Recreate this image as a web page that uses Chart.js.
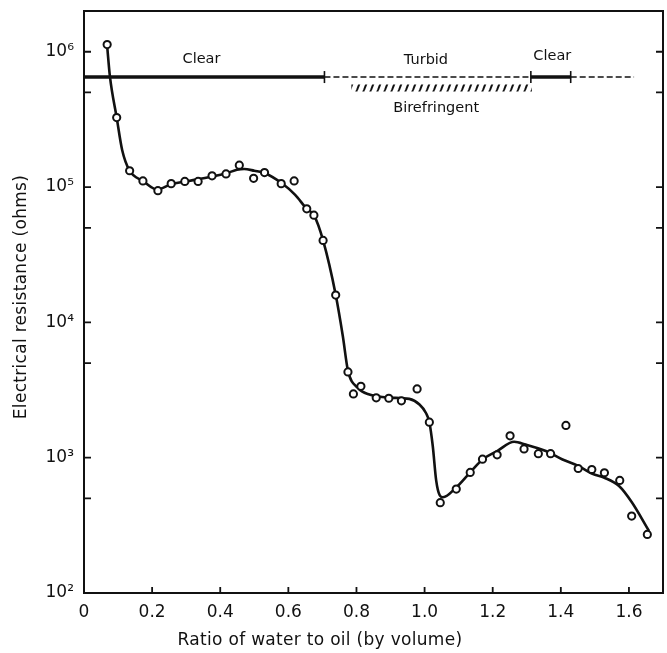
<!DOCTYPE html>
<html>
<head>
<meta charset="utf-8">
<script src="https://cdn.jsdelivr.net/npm/chart.js@4.4.0/dist/chart.umd.min.js"></script>
<style>
  html, body { margin: 0; padding: 0; background: #fff; }
  #wrap { width: 667px; height: 653px; }
</style>
</head>
<body>
<div id="wrap"><canvas id="resistanceChart"></canvas></div>
<script>
// measured points (ratio of water to oil, resistance in ohms)
const ratioPts = [0.068, 0.096, 0.134, 0.173, 0.217, 0.256, 0.296, 0.335, 0.376, 0.417,
  0.456, 0.498, 0.530, 0.579, 0.617, 0.654, 0.675, 0.702, 0.739, 0.775,
  0.791, 0.813, 0.858, 0.895, 0.932, 0.978, 1.014, 1.046, 1.093, 1.134,
  1.170, 1.213, 1.251, 1.292, 1.334, 1.370, 1.415, 1.451, 1.491, 1.528,
  1.573, 1.608, 1.654];
const ohmPts = [1.13e6, 3.26e5, 1.32e5, 1.11e5, 9.4e4, 1.06e5, 1.10e5, 1.10e5, 1.21e5, 1.25e5,
  1.45e5, 1.16e5, 1.28e5, 1.06e5, 1.11e5, 6.9e4, 6.2e4, 4.03e4, 1.59e4, 4.3e3,
  2.96e3, 3.37e3, 2.77e3, 2.75e3, 2.63e3, 3.22e3, 1.83e3, 465, 586, 778,
  975, 1.05e3, 1.45e3, 1.16e3, 1.07e3, 1.07e3, 1.73e3, 832, 818, 774,
  679, 370, 271];

// hand drawn curve through the points
const curveRatio = [0.068, 0.076, 0.096, 0.112, 0.134, 0.173, 0.215, 0.256, 0.30, 0.34,
  0.38, 0.42, 0.449, 0.47, 0.50, 0.53, 0.58, 0.62, 0.654, 0.675,
  0.702, 0.739, 0.760, 0.775, 0.804, 0.838, 0.895, 0.955, 0.985, 1.004,
  1.014, 1.024, 1.034, 1.044, 1.054, 1.092, 1.134, 1.170, 1.213, 1.263,
  1.297, 1.356, 1.405, 1.453, 1.493, 1.528, 1.571, 1.608, 1.659];
const curveOhm = [1.1e6, 6.6e5, 3.26e5, 1.88e5, 1.32e5, 1.11e5, 9.6e4, 1.05e5, 1.10e5, 1.15e5,
  1.20e5, 1.27e5, 1.34e5, 1.36e5, 1.32e5, 1.27e5, 1.07e5, 8.75e4, 6.9e4, 6.2e4,
  4.03e4, 1.6e4, 7.9e3, 4.4e3, 3.28e3, 2.93e3, 2.78e3, 2.72e3, 2.47e3, 2.14e3,
  1.83e3, 1.22e3, 6.8e2, 5.3e2, 5.1e2, 6.0e2, 7.8e2, 9.7e2, 1.12e3, 1.31e3,
  1.25e3, 1.12e3, 970, 865, 760, 711, 617, 470, 287];

// phase regions along the top
const clearBars = [[0, 0.706], [1.312, 1.429]];
const turbidBars = [[0.706, 1.312], [1.429, 1.615]];
const phaseEdges = [0.706, 1.312, 1.429];
const birefringentBar = [0.785, 1.315];
const phaseLevel = 6.5e5;
const birefLevel = 5.4e5;
const phaseLabels = ["Clear", "Turbid", "Clear", "Birefringent"];
const phaseLabelX = [0.345, 1.004, 1.375, 1.034];
const phaseLabelY = [8.8e5, 8.7e5, 9.3e5, 3.84e5];

// axes
const xTickValues = [0, 0.2, 0.4, 0.6, 0.8, 1.0, 1.2, 1.4, 1.6];
const yTickValues = [1e2, 5e2, 1e3, 5e3, 1e4, 5e4, 1e5, 5e5, 1e6];
const SUP = { 2: "\u00b2", 3: "\u00b3", 4: "\u2074", 5: "\u2075", 6: "\u2076" };

const INK = "#111";
const FONT = "'DejaVu Sans', sans-serif";

function hatchPattern() {
  const w = 7, h = 18;
  const tile = document.createElement("canvas");
  tile.width = w;
  tile.height = h;
  const c = tile.getContext("2d");
  c.strokeStyle = INK;
  c.lineWidth = 2;
  [-w, 0, w].forEach((dx) => {
    c.beginPath();
    c.moveTo(dx, h);
    c.lineTo(dx + w, 0);
    c.stroke();
  });
  return document.getElementById("resistanceChart").getContext("2d").createPattern(tile, "repeat");
}

const segment = (pair, y) => pair.map((x) => ({ x, y }));

const datasets = [
  {
    label: "measured",
    data: ratioPts.map((x, i) => ({ x, y: ohmPts[i] })),
    pointStyle: "circle",
    pointRadius: 3.6,
    pointBorderWidth: 2,
    pointBackgroundColor: "#fff",
    pointBorderColor: INK,
    showLine: false,
  },
  {
    label: "curve",
    data: curveRatio.map((x, i) => ({ x, y: curveOhm[i] })),
    showLine: true,
    borderColor: INK,
    borderWidth: 2.6,
    pointRadius: 0,
    cubicInterpolationMode: "monotone",
  },
  {
    label: "edges",
    data: phaseEdges.map((x) => ({ x, y: phaseLevel })),
    pointStyle: "line",
    rotation: 90,
    pointRadius: 6,
    pointBorderWidth: 1.6,
    pointBorderColor: INK,
    showLine: false,
  },
  {
    label: "birefringent",
    data: segment(birefringentBar, birefLevel),
    showLine: true,
    borderColor: hatchPattern(),
    borderWidth: 7,
    borderCapStyle: "butt",
    pointRadius: 0,
  },
];

clearBars.forEach((pair) => {
  datasets.push({
    label: "clear",
    data: segment(pair, phaseLevel),
    showLine: true,
    borderColor: INK,
    borderWidth: 3.4,
    borderCapStyle: "butt",
    pointRadius: 0,
  });
});
turbidBars.forEach((pair) => {
  datasets.push({
    label: "turbid",
    data: segment(pair, phaseLevel),
    showLine: true,
    borderColor: INK,
    borderWidth: 1.6,
    borderDash: [6, 3],
    borderCapStyle: "butt",
    pointRadius: 0,
  });
});

// frame, inward ticks, titles and phase labels
const framePlugin = {
  id: "frame",
  afterDraw(chart) {
    const { ctx, chartArea: { left, right, top, bottom }, scales: { x, y } } = chart;
    ctx.save();
    ctx.strokeStyle = INK;
    ctx.lineWidth = 2;
    ctx.strokeRect(left, top, right - left, bottom - top);

    ctx.lineWidth = 1.8;
    ctx.beginPath();
    xTickValues.forEach((v) => {
      const px = x.getPixelForValue(v);
      ctx.moveTo(px, bottom);
      ctx.lineTo(px, bottom - 6);
    });
    yTickValues.forEach((v) => {
      const py = y.getPixelForValue(v);
      ctx.moveTo(left, py);
      ctx.lineTo(left + 7, py);
      ctx.moveTo(right, py);
      ctx.lineTo(right - 7, py);
    });
    ctx.stroke();

    ctx.fillStyle = INK;
    ctx.textAlign = "center";
    ctx.textBaseline = "middle";
    ctx.font = `14.5px ${FONT}`;
    phaseLabels.forEach((t, i) => {
      ctx.fillText(t, x.getPixelForValue(phaseLabelX[i]), y.getPixelForValue(phaseLabelY[i]));
    });

    ctx.font = `17px ${FONT}`;
    ctx.letterSpacing = "0.3px";
    ctx.fillText("Ratio of water to oil (by volume)", 320, 641);
    ctx.translate(22, 297);
    ctx.rotate(-Math.PI / 2);
    ctx.fillText("Electrical resistance (ohms)", 0, 0);
    ctx.restore();
  },
};

new Chart(document.getElementById("resistanceChart"), {
  type: "scatter",
  data: { datasets },
  options: {
    responsive: true,
    maintainAspectRatio: false,
    animation: false,
    layout: { autoPadding: false, padding: { top: 11, right: 4, left: 0, bottom: 0 } },
    plugins: { legend: { display: false }, tooltip: { enabled: false } },
    scales: {
      x: {
        type: "linear",
        min: 0,
        max: 1.7,
        afterBuildTicks: (scale) => {
          scale.ticks = xTickValues.map((value) => ({ value }));
        },
        afterFit: (scale) => {
          scale.height = 60;
          scale.paddingLeft = 0;
          scale.paddingRight = 0;
        },
        grid: { display: false, drawTicks: false },
        border: { display: false },
        ticks: {
          padding: 9,
          color: INK,
          font: { family: FONT, size: 17 },
          maxRotation: 0,
          callback: (v) => (v === 0 ? "0" : Number(v).toFixed(1)),
        },
      },
      y: {
        type: "logarithmic",
        min: 100,
        max: 2e6,
        afterBuildTicks: (scale) => {
          scale.ticks = yTickValues.map((value) => ({ value }));
        },
        afterFit: (scale) => {
          scale.width = 84;
          scale.paddingTop = 0;
          scale.paddingBottom = 0;
        },
        grid: { display: false, drawTicks: false },
        border: { display: false },
        ticks: {
          padding: 10,
          color: INK,
          font: { family: FONT, size: 17 },
          callback: (v) => {
            const e = Math.round(Math.log10(v));
            return Math.abs(Math.log10(v) - e) < 1e-6 ? "10" + SUP[e] : "";
          },
        },
      },
    },
  },
  plugins: [framePlugin],
});
</script>
</body>
</html>
